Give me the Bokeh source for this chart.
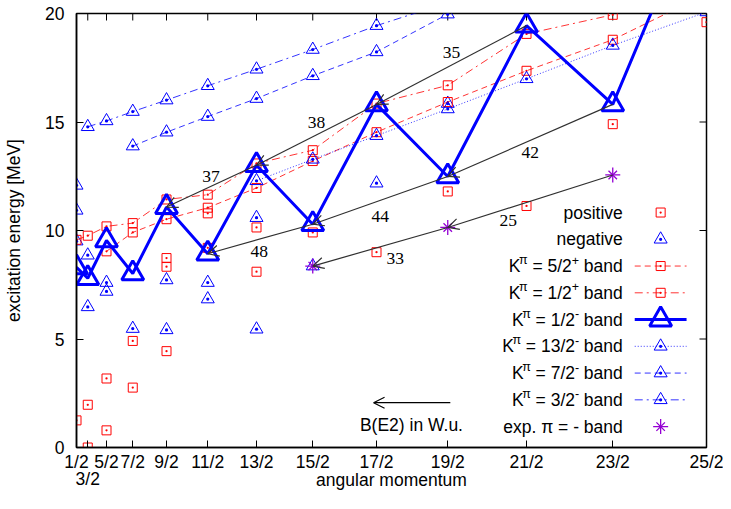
from bokeh.plotting import figure
from bokeh.models import (Range1d, FixedTicker, Arrow, OpenHead, Label,
                          LabelSet, ColumnDataSource)
from bokeh.embed import file_html
from bokeh.resources import INLINE
import math

# ---------------- data ----------------
tick_J = [0.5, 1.5, 2.5, 3.5, 4.5, 5.5, 6.5, 7.5, 8.5, 9.5, 10.5, 11.5, 12.5]
tick_labels = ["1/2", "3/2", "5/2", "7/2", "9/2", "11/2", "13/2", "15/2",
               "17/2", "19/2", "21/2", "23/2", "25/2"]
energy_ticks = [0, 5, 10, 15, 20]

# positive-parity states (not in a band)
pos_J = [0.5, 1.5, 1.5, 2.5, 2.5, 3.5, 3.5, 4.5, 4.5, 4.5, 5.5, 5.5,
         6.5, 6.5, 7.5, 8.5, 9.5, 10.5, 11.5, 12.5]
pos_E = [1.25, 0.0, 1.97, 0.79, 3.18, 2.76, 4.91, 4.44, 8.33, 8.73, 9.2, 10.79,
         8.1, 10.14, 9.91, 9.0, 11.8, 11.13, 14.9, 19.6]

# negative-parity states (not in a band)
neg_J = [0.5, 0.5, 0.5, 1.5, 1.5, 2.5, 2.5, 3.5, 4.5, 4.5, 5.5, 5.5,
         6.5, 6.5, 7.5, 8.5, 9.5]
neg_E = [9.51, 10.93, 12.08, 6.48, 8.86, 7.19, 7.6, 5.48, 5.42, 7.72, 6.84, 7.6,
         5.45, 10.59, 8.36, 12.18, 15.85]

k52p_J = [2.5, 3.5, 4.5, 5.5, 6.5, 7.5, 8.5, 9.5, 10.5, 11.5, 12.5]
k52p_E = [9.04, 9.91, 10.52, 11.05, 11.96, 13.2, 14.53, 15.92, 17.36, 18.79, 20.9]

k12p_J = [0.5, 1.5, 2.5, 3.5, 4.5, 5.5, 6.5, 7.5, 8.5, 9.5, 10.5, 11.5]
k12p_E = [9.57, 9.76, 10.19, 10.34, 11.43, 11.65, 13.09, 13.7, 15.85, 16.69, 19.06, 19.94]

k12m_J = [0.5, 1.5, 2.5, 3.5, 4.5, 5.5, 6.5, 7.5, 8.5, 9.5, 10.5, 11.5, 12.5]
k12m_E = [8.3, 7.8, 9.54, 8.02, 11.08, 8.93, 13.01, 10.29, 15.81, 12.49, 19.44, 15.81, 26.1]

k132m_J = [6.5, 7.5, 8.5, 9.5, 10.5, 11.5, 12.5]
k132m_E = [12.29, 13.28, 14.37, 15.6, 16.99, 18.53, 20.07]

k72m_J = [3.5, 4.5, 5.5, 6.5, 7.5, 8.5, 9.5]
k72m_E = [13.89, 14.53, 15.25, 16.08, 17.13, 18.23, 19.97]

k32m_J = [1.5, 2.5, 3.5, 4.5, 5.5, 6.5, 7.5, 8.5, 9.5]
k32m_E = [14.78, 15.05, 15.48, 16.01, 16.67, 17.43, 18.34, 19.44, 20.5]

exp_J = [7.5, 9.5, 11.5]
exp_E = [8.36, 10.14, 12.56]

# B(E2) transitions in W.u. (J_from -> J_to)
be2_from = [6.5, 7.5, 8.5, 9.5, 10.5, 11.5]
be2_to = [4.5, 5.5, 6.5, 7.5, 8.5, 9.5]
be2_val = [37, 48, 38, 44, 35, 42]
exp_be2_from = [9.5, 11.5]
exp_be2_to = [7.5, 9.5]
exp_be2_val = [33, 25]

# ---------------- style ----------------
FONT = "Liberation Sans"
FS = 17.5
FSUP = 12.5
RED = "#ff0000"
BLUE = "#0000ff"
PURPLE = "#9400d3"
ARROW = "#303030"

# label offsets (px) of B(E2) numbers from arrow midpoints
be2_dx = [-0.5, -1, 0, 0, 0, 0]
be2_dy = [9.5, -13, 12, -16, 13, -12]
exp_dx = [15, -22]
exp_dy = [-12, -19]


def jj(js):
    return [j * (j + 1) for j in js]


x_ticks = jj(tick_J)
X0, X1 = x_ticks[0], x_ticks[-1]
Y0, Y1 = energy_ticks[0], energy_ticks[-1]

p = figure(width=723, height=493,
           x_range=Range1d(X0, X1), y_range=Range1d(Y0, Y1),
           output_backend="svg", toolbar_location=None,
           min_border_left=76, min_border_right=17, min_border_top=13,
           min_border_bottom=46, background_fill_color="white")
p.grid.visible = False
p.outline_line_color = "black"
p.outline_line_width = 1.5


def style_axis(ax):
    ax.major_tick_in = 7
    ax.major_tick_out = 0
    ax.minor_tick_line_color = None
    ax.axis_line_color = "black"
    ax.axis_line_width = 1.5
    ax.major_tick_line_color = "black"
    ax.major_tick_line_width = 1
    ax.major_label_text_font = FONT
    ax.major_label_text_font_size = f"{FS}px"
    ax.major_label_text_color = "black"
    ax.axis_label_text_font = FONT
    ax.axis_label_text_font_size = f"{FS}px"
    ax.axis_label_text_font_style = "normal"
    ax.axis_label_text_color = "black"


xa = p.xaxis[0]
xa.ticker = FixedTicker(ticks=x_ticks)
xa.major_label_overrides = {x: ("\n" + lab if i == 1 else lab)
                            for i, (x, lab) in enumerate(zip(x_ticks, tick_labels))}
xa.axis_label = "angular momentum"
style_axis(xa)
xa.major_label_text_line_height = 0.85
xa.major_label_standoff = 4
xa.axis_label_standoff = -22

ya = p.yaxis[0]
ya.ticker = FixedTicker(ticks=energy_ticks)
ya.axis_label = "excitation energy [MeV]"
style_axis(ya)
ya.major_label_standoff = 12
ya.axis_label_standoff = 18

# mirrored inward ticks on the top and right borders
p.scatter(x_ticks, [Y1] * len(x_ticks), marker="dash", angle=math.pi / 2,
          size=14, line_color="black", line_width=1)
p.scatter([X1] * len(energy_ticks), energy_ticks, marker="dash",
          size=14, line_color="black", line_width=1)

# ---------------- glyphs ----------------
p.scatter(jj(pos_J), pos_E, marker="square_dot", size=9, line_color=RED,
          fill_color=None, line_width=1)
p.scatter(jj(neg_J), neg_E, marker="triangle_dot", size=13, line_color=BLUE,
          fill_color=None, line_width=1)

BAND_STYLE = {
    "52p": dict(color=RED, dash="6 4", lw=1, marker="square_dot", size=9, mlw=1, alpha=0.8),
    "12p": dict(color=RED, dash="8 4 2 4", lw=1, marker="square_dot", size=9, mlw=1, alpha=0.8),
    "12m": dict(color=BLUE, dash="solid", lw=3, marker="triangle", size=22, mlw=3, alpha=1.0),
    "132m": dict(color=BLUE, dash="1 2", lw=1, marker="triangle_dot", size=13, mlw=1, alpha=0.8),
    "72m": dict(color=BLUE, dash="6 4", lw=1, marker="triangle_dot", size=13, mlw=1, alpha=0.8),
    "32m": dict(color=BLUE, dash="8 4 2 4", lw=1, marker="triangle_dot", size=13, mlw=1, alpha=0.8),
}


def band(J, E, st):
    x = jj(J)
    p.line(x, E, line_color=st["color"], line_dash=st["dash"], line_width=st["lw"],
           line_alpha=st["alpha"])
    p.scatter(x, E, marker=st["marker"], size=st["size"], line_color=st["color"],
              fill_color=None, line_width=st["mlw"])


band(k52p_J, k52p_E, BAND_STYLE["52p"])
band(k12p_J, k12p_E, BAND_STYLE["12p"])
band(k132m_J, k132m_E, BAND_STYLE["132m"])
band(k72m_J, k72m_E, BAND_STYLE["72m"])
band(k32m_J, k32m_E, BAND_STYLE["32m"])
band(k12m_J, k12m_E, BAND_STYLE["12m"])


def star(x, y):
    p.scatter(x, y, marker="cross", size=15, line_color=PURPLE, line_width=1.3)
    p.scatter(x, y, marker="x", size=12, line_color=PURPLE, line_width=1.3)


star(jj(exp_J), exp_E)

# ---------------- B(E2) arrows ----------------
e12m = dict(zip(k12m_J, k12m_E))
eexp = dict(zip(exp_J, exp_E))


def arrows(jf, jt, vals, lookup, dx, dy):
    xs, ys = jj(jf), [lookup[j] for j in jf]
    xe, ye = jj(jt), [lookup[j] for j in jt]
    src = ColumnDataSource(dict(xs=xs, ys=ys, xe=xe, ye=ye,
                                xm=[(a + b) / 2 for a, b in zip(xs, xe)],
                                ym=[(a + b) / 2 for a, b in zip(ys, ye)],
                                t=[str(v) for v in vals], dx=dx, dy=dy))
    p.add_layout(Arrow(x_start="xs", y_start="ys", x_end="xe", y_end="ye", source=src,
                       line_color=ARROW, line_width=1.2,
                       end=OpenHead(size=11, line_color=ARROW, line_width=1.2)))
    p.add_layout(LabelSet(x="xm", y="ym", text="t", x_offset="dx", y_offset="dy", source=src,
                          text_align="center", text_baseline="middle", text_font=FONT,
                          text_font_size=f"{FS}px", text_color="black"))


arrows(be2_from, be2_to, be2_val, e12m, be2_dx, be2_dy)
arrows(exp_be2_from, exp_be2_to, exp_be2_val, eexp, exp_dx, exp_dy)

# ---------------- key ----------------
# key layout given in the reference image's pixel frame (left 80, right 712, top 13, bottom 453.5)
REF_L, REF_R, REF_T, REF_B = 80.0, 712.0, 13.0, 453.5


def kx(px):
    return X0 + (px - REF_L) / (REF_R - REF_L) * (X1 - X0)


def ky(py):
    return Y0 + (REF_B - py) / (REF_B - REF_T) * (Y1 - Y0)


TEXT_R = 628
ROW0, STEP = 215, 27.16
GX0, GX1 = 640, 692
GXC = (GX0 + GX1) / 2
RAISE = 6
PX_PER_X = 632 / (X1 - X0)   # approx px per x-unit, used for text width stacking

p.add_layout(Arrow(x_start=kx(455), y_start=ky(408), x_end=kx(378), y_end=ky(408),
                   line_color="black", line_width=1.2,
                   end=OpenHead(size=11, line_color="black", line_width=1.2)))
p.add_layout(Label(x=kx(416), y=ky(431), text="B(E2) in W.u.",
                   text_align="center", text_baseline="middle", text_font=FONT,
                   text_font_size=f"{FS}px", text_color="black"))

W = {'K': 667, ' ': 278, '=': 584, '/': 278, '+': 584, '-': 333, 'π': 580,
     'b': 556, 'a': 556, 'n': 556, 'd': 556}


def tw(s, size):
    return sum(W.get(c, 556) for c in s) / 1000 * size


def lab(xpx, ypx, text, size, raise_px=0):
    p.add_layout(Label(x=kx(xpx), y=ky(ypx), y_offset=raise_px, text=text,
                       text_align="right", text_baseline="middle", text_font=FONT,
                       text_font_size=f"{size}px", text_color="black"))


def key_marker(ypx, marker, size, color, lw):
    p.scatter([kx(GXC)], [ky(ypx)], marker=marker, size=size, line_color=color,
              fill_color=None, line_width=lw)


def key_line(ypx, st):
    p.line([kx(GX0), kx(GX1)], [ky(ypx), ky(ypx)], line_color=st["color"],
           line_dash=st["dash"], line_width=st["lw"], line_alpha=st["alpha"])
    key_marker(ypx, st["marker"], st["size"], st["color"], st["mlw"])


rows_y = [ROW0 + STEP * i for i in range(9)]
lab(TEXT_R, rows_y[0], "positive", FS)
key_marker(rows_y[0], "square_dot", 9, RED, 1)
lab(TEXT_R, rows_y[1], "negative", FS)
key_marker(rows_y[1], "triangle_dot", 13, BLUE, 1)

k_rows = [("5/2", "+", "52p"), ("1/2", "+", "12p"), ("1/2", "-", "12m"),
          ("13/2", "-", "132m"), ("7/2", "-", "72m"), ("3/2", "-", "32m")]
for i, (frac, sign, key) in enumerate(k_rows):
    y = rows_y[i + 2]
    x = TEXT_R
    lab(x, y, "band", FS)
    x -= tw(" band", FS)
    lab(x, y, sign, FSUP, RAISE)
    x -= tw(sign, FSUP)
    lab(x, y, "= " + frac, FS)
    x -= tw(" = " + frac, FS)
    lab(x, y, "π", FSUP, RAISE)
    x -= tw("π", FSUP)
    lab(x, y, "K", FS)
    key_line(y, BAND_STYLE[key])

lab(TEXT_R, rows_y[8], "exp. π = - band", FS)
star([kx(GXC)], [ky(rows_y[8])])

open("out.html", "w").write(file_html(p, INLINE))
